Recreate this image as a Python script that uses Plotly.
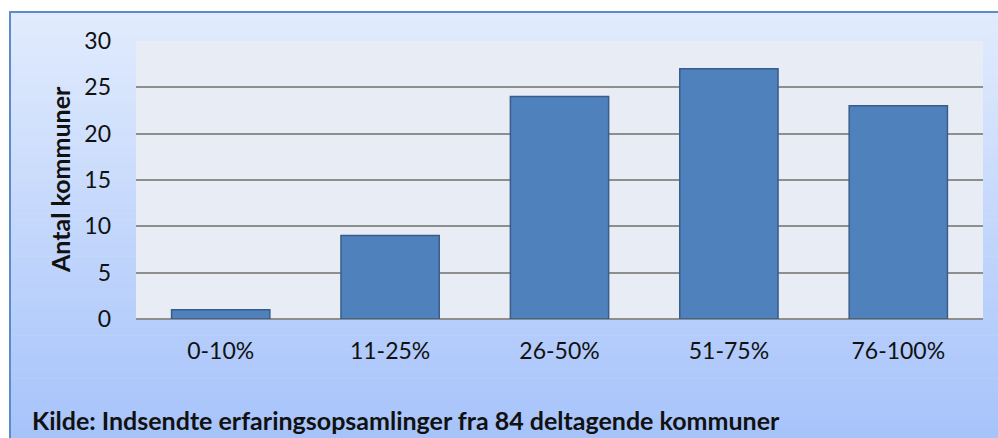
import plotly.graph_objects as go

categories = ["0-10%", "11-25%", "26-50%", "51-75%", "76-100%"]
values = [1, 9, 24, 27, 23]
y_ticks = [0, 5, 10, 15, 20, 25, 30]
y_title = "Antal kommuner"
source = "Kilde: Indsendte erfaringsopsamlinger fra 84 deltagende kommuner"

W, H = 998, 438
L, R, T, B = 136, 15, 41, 119
pw, ph = W - L - R, H - T - B

def px2x(px):
    return (px - L) / pw

def py2y(py):
    return (H - B - py) / ph

fig = go.Figure(go.Bar(
    x=categories, y=values, width=0.58,
    marker=dict(color="#4F81BD", line=dict(color="#385D8A", width=1.5)),
))

shapes = []
top_c = (0xE1, 0xEB, 0xFD)
bot_c = (0xA6, 0xC3, 0xFA)
n = 60
y0p, y1p = 12, H + 5
for i in range(n):
    f = i / (n - 1)
    c = tuple(round(top_c[k] + (bot_c[k] - top_c[k]) * f) for k in range(3))
    a = y0p + (y1p - y0p) * i / n
    b = y0p + (y1p - y0p) * (i + 1) / n + 0.5
    shapes.append(dict(type="rect", xref="paper", yref="paper", layer="below",
                       x0=px2x(10), x1=px2x(W + 5), y0=py2y(a), y1=py2y(b),
                       fillcolor="rgb(%d,%d,%d)" % c, line=dict(width=0)))
shapes.append(dict(type="rect", xref="paper", yref="paper", layer="below",
                   x0=0, x1=1, y0=0, y1=1, fillcolor="#E8ECF4", line=dict(width=0)))
shapes.append(dict(type="rect", xref="paper", yref="paper", layer="below",
                   x0=px2x(10), x1=px2x(W + 10), y0=py2y(12), y1=py2y(H + 10),
                   fillcolor="rgba(0,0,0,0)", line=dict(color="#5B8BC9", width=2)))

fig.update_layout(
    width=W, height=H,
    margin=dict(l=L, r=R, t=T, b=B),
    paper_bgcolor="white",
    plot_bgcolor="rgba(0,0,0,0)",
    showlegend=False,
    font=dict(family="Lato, 'Open Sans', sans-serif", color="#111", size=23),
    shapes=shapes,
    xaxis=dict(showgrid=False, ticks="", ticklabelstandoff=16,
               tickfont=dict(size=23), showline=False, zeroline=False),
    yaxis=dict(range=[0, 30], tickvals=y_ticks, showgrid=True, gridcolor="#8E8E8E",
               gridwidth=2, zeroline=True, zerolinecolor="#8E8E8E", zerolinewidth=2,
               ticks="", ticklabelstandoff=24, tickfont=dict(size=23)),
    annotations=[
        dict(text="<b>" + y_title + "</b>", xref="paper", yref="paper",
             x=px2x(60), y=py2y(180), xanchor="center", yanchor="middle",
             textangle=-90, showarrow=False, font=dict(size=25, color="#111")),
        dict(text="<b>" + source + "</b>", xref="paper", yref="paper",
             x=px2x(30), y=py2y(420), xanchor="left", yanchor="middle",
             showarrow=False, font=dict(size=25, color="#111")),
    ],
)

fig.write_html("out.html", config={"displayModeBar": False},
               post_script="document.body.style.margin='0';")
